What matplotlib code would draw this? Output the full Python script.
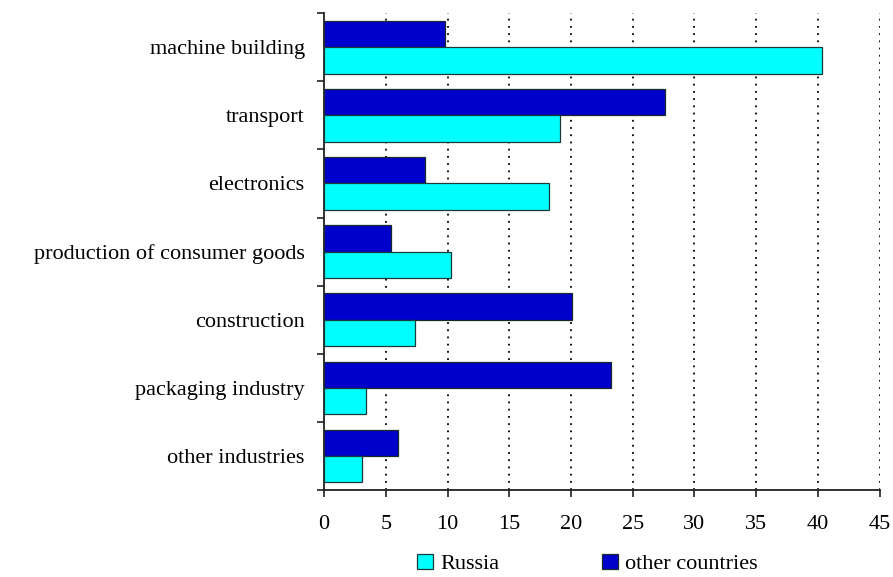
import numpy as np
import matplotlib
matplotlib.use("Agg")
import matplotlib.pyplot as plt

# data
categories = ["machine building", "transport", "electronics",
              "production of consumer goods", "construction",
              "packaging industry", "other industries"]
russia = [40.3, 19.1, 18.2, 10.3, 7.4, 3.4, 3.1]
other_countries = [9.8, 27.6, 8.2, 5.4, 20.1, 23.2, 6.0]
x_ticks = [0, 5, 10, 15, 20, 25, 30, 35, 40, 45]

plt.rcParams['font.family'] = ['Liberation Serif', 'DejaVu Serif']

fig = plt.figure(figsize=(8.93, 5.77), dpi=100)
ax = fig.add_axes([0.363, 0.151, 0.622, 0.826])

y = np.arange(len(categories))
h = 0.385

ax.barh(y - h / 2, other_countries, height=h, color='#0000CC',
        edgecolor='#1a2a2a', linewidth=0.9, label='other countries', zorder=3)
ax.barh(y + h / 2, russia, height=h, color='#00FFFF',
        edgecolor='#1a3a3a', linewidth=0.9, label='Russia', zorder=3)

ax.set_ylim(len(categories) - 0.5, -0.5)
ax.set_xlim(0, 45)

# category boundaries as ticks, labels at band centres
ax.set_yticks(np.arange(len(categories) + 1) - 0.5)
ax.set_yticklabels([])
ax.set_yticks(y, minor=True)
ax.set_yticklabels(categories, minor=True, fontsize=16)
ax.tick_params(axis='y', which='minor', length=0, pad=14)
ax.tick_params(axis='y', which='major', length=5, width=1.2, color='#222')

ax.set_xticks(x_ticks)
ax.set_xticklabels([str(t) for t in x_ticks], fontsize=16)
ax.tick_params(axis='x', length=5, width=1.2, color='#222', pad=13)

for t in x_ticks[1:]:
    ax.axvline(t, color='black', linestyle=(0, (1, 3)), linewidth=1.3, zorder=1)

for s in ['top', 'right']:
    ax.spines[s].set_visible(False)
for s in ['left', 'bottom']:
    ax.spines[s].set_linewidth(1.3)
    ax.spines[s].set_color('#222')

handles, labels = ax.get_legend_handles_labels()
fig.legend(handles[::-1], labels[::-1], loc='lower left',
           bbox_to_anchor=(0.445, -0.03), ncol=2, frameon=False,
           fontsize=16, handlelength=0.7, handleheight=0.7,
           handletextpad=0.35, columnspacing=4.6)

fig.savefig("out.png", dpi=100)
